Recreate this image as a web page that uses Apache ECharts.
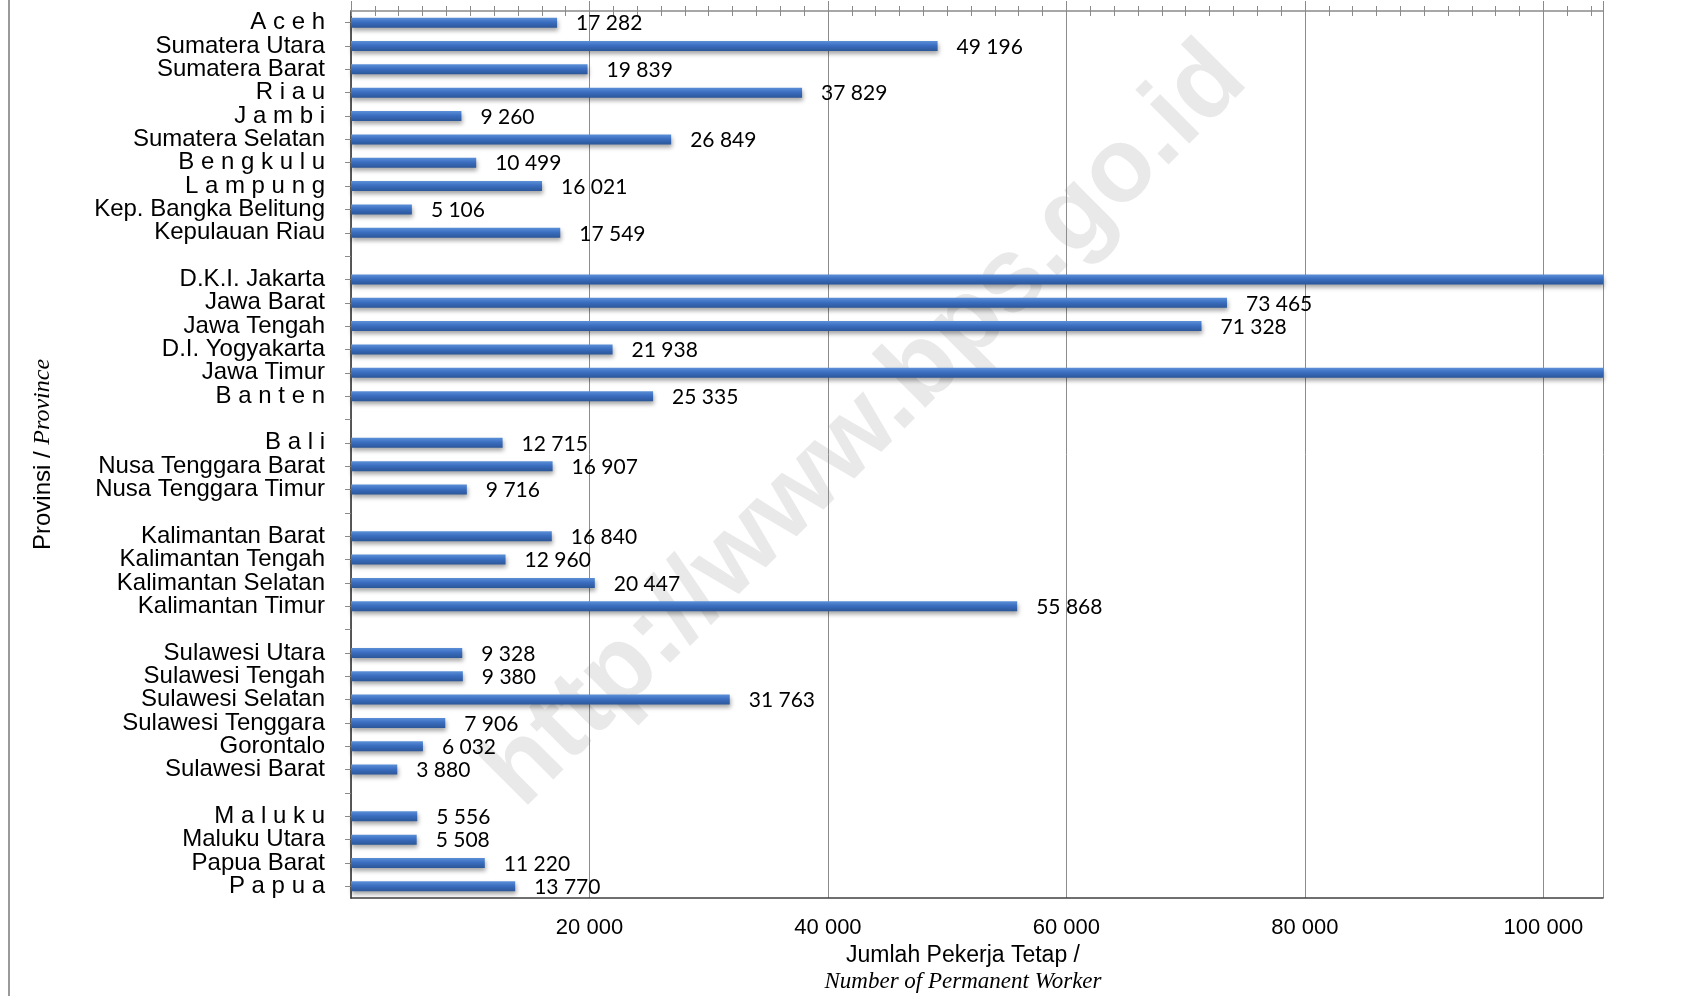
<!DOCTYPE html>
<html>
<head>
<meta charset="utf-8">
<title>Jumlah Pekerja Tetap per Provinsi</title>
<script src="https://cdn.jsdelivr.net/npm/echarts@6/dist/echarts.min.js"></script>
<style>
  html, body { margin: 0; padding: 0; background: #fff; }
  #chart { width: 1694px; height: 996px; }
</style>
</head>
<body>
<div id="chart"></div>
<script>
// provinces top to bottom, '' = gap between island groups
const provinces = [
  'A c e h', 'Sumatera Utara', 'Sumatera Barat', 'R i a u', 'J a m b i',
  'Sumatera Selatan', 'B e n g k u l u', 'L a m p u n g', 'Kep. Bangka Belitung', 'Kepulauan Riau',
  '',
  'D.K.I. Jakarta', 'Jawa Barat', 'Jawa Tengah', 'D.I. Yogyakarta', 'Jawa Timur', 'B a n t e n',
  '',
  'B a l i', 'Nusa Tenggara Barat', 'Nusa Tenggara Timur',
  '',
  'Kalimantan Barat', 'Kalimantan Tengah', 'Kalimantan Selatan', 'Kalimantan Timur',
  '',
  'Sulawesi Utara', 'Sulawesi Tengah', 'Sulawesi Selatan', 'Sulawesi Tenggara', 'Gorontalo', 'Sulawesi Barat',
  '',
  'M a l u k u', 'Maluku Utara', 'Papua Barat', 'P a p u a'
]

// Jakarta & Jawa Timur run off the chart in the source, values estimated
const workers = [
  17282, 49196, 19839, 37829, 9260,
  26849, 10499, 16021, 5106, 17549,
  null,
  120000, 73465, 71328, 21938, 120000, 25335,
  null,
  12715, 16907, 9716,
  null,
  16840, 12960, 20447, 55868,
  null,
  9328, 9380, 31763, 7906, 6032, 3880,
  null,
  5556, 5508, 11220, 13770
]

const axisMax = 105000
const majorStep = 20000
const minorStep = 2000

const fmt = v => String(v).replace(/\B(?=(\d{3})+(?!\d))/g, ' ')

const barData = workers.map(v => {
  if (v === null) return '-'
  if (v > axisMax) return { value: v, label: { show: false } }
  return v
})

const chart = echarts.init(document.getElementById('chart'))

const topAxis = (step, inside, len, showLine) => ({
  type: 'value',
  position: 'top',
  min: 0,
  max: axisMax,
  interval: step,
  axisLine: { show: showLine, lineStyle: { color: '#8a8a8a', width: 1.5 } },
  axisTick: { show: true, inside: inside, length: len, lineStyle: { color: '#8a8a8a' } },
  axisLabel: { show: false },
  splitLine: { show: false }
})

chart.setOption({
  animation: false,
  grid: {
    left: 351,
    right: 91,
    top: 11,
    bottom: 98,
    outerBoundsMode: 'none'
  },
  graphic: [
    {
      type: 'text',
      x: 866,
      y: 426,
      rotation: Math.PI / 4,
      z: -10,
      silent: true,
      style: {
        text: 'http://www.bps.go.id',
        fontSize: 105,
        fontWeight: 'bold',
        fontFamily: 'Liberation Sans, Arial, sans-serif',
        fill: '#e9e9e9',
        align: 'center',
        verticalAlign: 'middle'
      }
    },
    {
      type: 'line',
      shape: { x1: 9, y1: 0, x2: 9, y2: 996 },
      style: { stroke: '#9a9a9a', lineWidth: 2 }
    }
  ],
  xAxis: [
    {
      type: 'value',
      position: 'bottom',
      min: 0,
      max: axisMax,
      interval: majorStep,
      axisLine: { show: true, lineStyle: { color: '#404040', width: 1.5 } },
      axisTick: { show: false },
      axisLabel: {
        margin: 19,
        color: '#000',
        fontSize: 22,
        fontFamily: 'Liberation Sans, Arial, sans-serif',
        formatter: v => (v > 0 && v % majorStep === 0) ? fmt(v) : ''
      },
      splitLine: { show: true, lineStyle: { color: '#8c8c8c', width: 1 } },
      name: '{a|Jumlah Pekerja Tetap /}\n{b|Number of Permanent Worker}',
      nameLocation: 'middle',
      nameGap: 42,
      nameTextStyle: {
        padding: [0, 28, 0, 0],
        rich: {
          a: { fontSize: 23, lineHeight: 27, color: '#000', fontFamily: 'Liberation Sans, Arial, sans-serif' },
          b: { fontSize: 23, lineHeight: 27, color: '#000', fontStyle: 'italic', fontFamily: 'Liberation Serif, Times New Roman, serif' }
        }
      }
    },
    topAxis(majorStep, false, 10, true),
    topAxis(minorStep, false, 5, false),
    topAxis(minorStep, true, 5, false)
  ],
  yAxis: [
    {
      type: 'category',
      inverse: true,
      data: provinces,
      axisLine: { show: true, lineStyle: { color: '#8a8a8a', width: 1.5 } },
      axisTick: { show: true, alignWithLabel: true, length: 6, lineStyle: { color: '#8a8a8a' } },
      axisLabel: {
        margin: 26,
        color: '#000',
        fontSize: 24,
        fontFamily: 'Liberation Sans, Arial, sans-serif',
        interval: 0
      },
      name: '{a|Provinsi / }{b|Province}',
      nameLocation: 'middle',
      nameRotate: 90,
      nameGap: 296,
      nameTextStyle: {
        rich: {
          a: { fontSize: 24, color: '#000', fontFamily: 'Liberation Sans, Arial, sans-serif' },
          b: { fontSize: 24, color: '#000', fontStyle: 'italic', fontFamily: 'Liberation Serif, Times New Roman, serif' }
        }
      }
    },
    {
      type: 'category',
      position: 'right',
      inverse: true,
      data: provinces,
      axisLine: { show: true, lineStyle: { color: '#404040', width: 1.5 } },
      axisTick: { show: false },
      axisLabel: { show: false }
    }
  ],
  series: [{
    name: 'Jumlah Pekerja Tetap',
    type: 'bar',
    barWidth: 10,
    data: barData,
    itemStyle: {
      color: {
        type: 'linear', x: 0, y: 0, x2: 0, y2: 1,
        colorStops: [
          { offset: 0, color: '#5b90d8' },
          { offset: 0.45, color: '#3b6ec0' },
          { offset: 1, color: '#2b5699' }
        ]
      },
      shadowColor: 'rgba(0, 0, 0, 0.35)',
      shadowBlur: 4,
      shadowOffsetX: 1,
      shadowOffsetY: 3
    },
    label: {
      show: true,
      position: 'right',
      distance: 19,
      offset: [0, 1],
      color: '#000',
      fontSize: 21,
      fontFamily: 'Lato, Open Sans, sans-serif',
      formatter: p => fmt(p.value)
    }
  }]
})
</script>
</body>
</html>
